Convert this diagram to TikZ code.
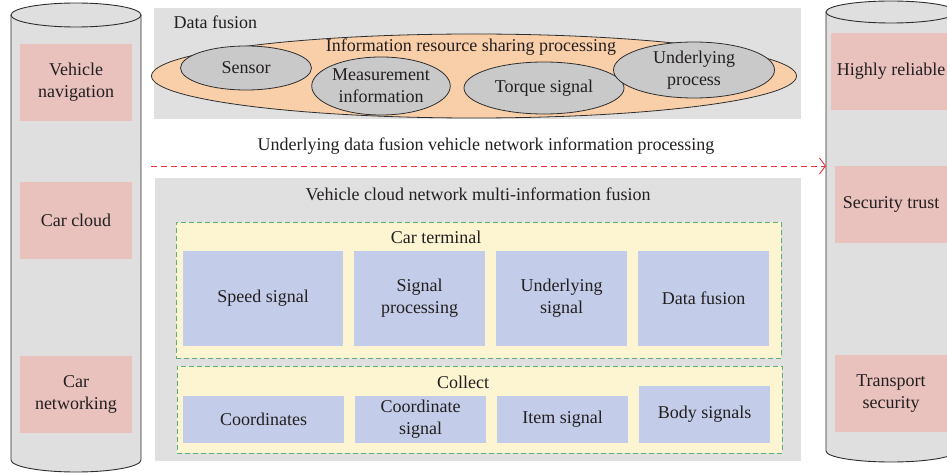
\documentclass[tikz,border=0pt]{standalone}
\usepackage{fontspec}
\setmainfont{Liberation Serif}
\usepackage{tikz}
\usetikzlibrary{shapes,arrows.meta,positioning}

\definecolor{cylgray}{HTML}{DFDFDF}
\definecolor{cyledge}{HTML}{2E2E2E}
\definecolor{pnlgray}{HTML}{E0E0E0}
\definecolor{pinkfill}{HTML}{E9C1BD}
\definecolor{peach}{HTML}{F9CFAA}
\definecolor{ellgray}{HTML}{C9C9C9}
\definecolor{paleyellow}{HTML}{FDF4D2}
\definecolor{frmgreen}{HTML}{5FAE7A}
\definecolor{bluefill}{HTML}{C3CDE9}
\definecolor{arrred}{HTML}{E8303A}
\definecolor{txt}{HTML}{231F20}

\tikzstyle{line} = [draw, arrred, line width=0.9pt, dash pattern=on 6pt off 4pt, -{Straight Barb[length=6pt, width=16pt]}]
\tikzstyle{pink_box} = [rectangle, fill=pinkfill, minimum width=112pt, minimum height=77pt, align=center, inner sep=0pt]
\tikzstyle{blue_box} = [rectangle, fill=bluefill, minimum width=131pt, minimum height=95pt, align=center, inner sep=0pt]
\tikzstyle{blue_low} = [rectangle, fill=bluefill, minimum width=131pt, minimum height=47pt, align=center, inner sep=0pt]
\tikzstyle{sub_ell} = [ellipse, draw=cyledge, fill=ellgray, line width=0.8pt, align=center, inner sep=0pt]
\tikzstyle{panel} = [rectangle, fill=pnlgray, inner sep=0pt]
\tikzstyle{dash_frame} = [rectangle, draw=frmgreen, fill=paleyellow, line width=0.8pt, dash pattern=on 5pt off 3pt, inner sep=0pt]

\begin{document}
\begin{tikzpicture}[x=1pt, y=-1pt, every node/.style={font=\fontsize{18}{22}\selectfont, text=txt}]
	\useasboundingbox (0,0) rectangle (947,473);

	\fill[cylgray] (11,15) -- (11,460) arc[start angle=180, end angle=0, x radius=65, y radius=12] -- (141,15) -- cycle;
	\draw[cyledge, line width=0.9pt] (11,15) -- (11,460) arc[start angle=180, end angle=0, x radius=65, y radius=12] -- (141,15);
	\draw[cyledge, fill=cylgray, line width=0.9pt] (76,15) ellipse (65 and 12);

	\fill[cylgray] (826,12) -- (826,451) arc[start angle=180, end angle=0, x radius=65, y radius=11] -- (956,12) -- cycle;
	\draw[cyledge, line width=0.9pt] (826,12) -- (826,451) arc[start angle=180, end angle=0, x radius=65, y radius=11] -- (956,12);
	\draw[cyledge, fill=cylgray, line width=0.9pt] (891,12) ellipse (65 and 11);

	\node[pink_box] (veh_nav) at (76,82.5) {Vehicle\\navigation};
	\node[pink_box, below of=veh_nav, node distance=138pt] (car_cloud) {Car cloud};
	\node[pink_box, below of=car_cloud, node distance=174pt] (car_net) {Car\\networking};

	\node[pink_box, minimum width=120pt] (reliable) at (891,71.5) {Highly reliable};
	\node[pink_box, below of=reliable, node distance=133pt] (trust) {Security trust};
	\node[pink_box, below of=trust, node distance=189pt] (transport) {Transport\\security};

	\node[panel, minimum width=647pt, minimum height=111pt] (fusion_pnl) at (477.5,63.5) {};
	\node[anchor=west] (fusion_lbl) at (170,22) {Data fusion};
	\node[ellipse, draw=cyledge, fill=peach, line width=0.8pt, minimum width=645pt, minimum height=84pt] (share) at (474,76) {};
	\node (share_lbl) at (471,47) {Information resource sharing processing};

	\node[sub_ell, minimum width=131pt, minimum height=44pt] (sensor) at (246,68) {Sensor};
	\node[sub_ell, minimum width=135pt, minimum height=58pt] (measure) at (381,86) {Measurement\\information};
	\node[sub_ell, minimum width=160pt, minimum height=52pt] (torque) at (544,88) {Torque signal};
	\node[sub_ell, minimum width=161pt, minimum height=56pt] (under_proc) at (694,70) {Underlying\\process};

	\node (arrow_lbl) at (486,146) {Underlying data fusion vehicle network information processing};
	\coordinate (arrow_start) at (151,166);
	\coordinate (right_cyl) at (826,166);
	\path [line] (arrow_start) to (right_cyl);

	\node[panel, minimum width=646pt, minimum height=283pt] (cloud_pnl) at (478,319.5) {};
	\node (cloud_lbl) at (478,194) {Vehicle cloud network multi-information fusion};

	\node[dash_frame, minimum width=605pt, minimum height=136pt] (terminal) at (478.5,290) {};
	\node (terminal_lbl) at (436,237) {Car terminal};
	\node[blue_box, minimum width=160pt] (speed) at (263,298.5) {Speed signal};
	\node[blue_box, right of=speed, node distance=156.5pt] (sig_proc) {Signal\\processing};
	\node[blue_box, right of=sig_proc, node distance=142pt] (under_sig) {Underlying\\signal};
	\node[blue_box, right of=under_sig, node distance=142pt] (fusion) {Data fusion};

	\node[dash_frame, minimum width=605pt, minimum height=87pt] (collect) at (479.5,409.5) {};
	\node (collect_lbl) at (463,382) {Collect};
	\node[blue_low, minimum width=161pt] (coords) at (263.5,419.5) {Coordinates};
	\node[blue_low, right of=coords, node distance=157pt] (coord_sig) {Coordinate\\signal};
	\node[blue_low, right of=coord_sig, node distance=142pt] (item_sig) {Item signal};
	\node[blue_low, minimum height=57pt, right of=item_sig, node distance=142pt, yshift=5pt] (body_sig) {Body signals};
\end{tikzpicture}
\end{document}
